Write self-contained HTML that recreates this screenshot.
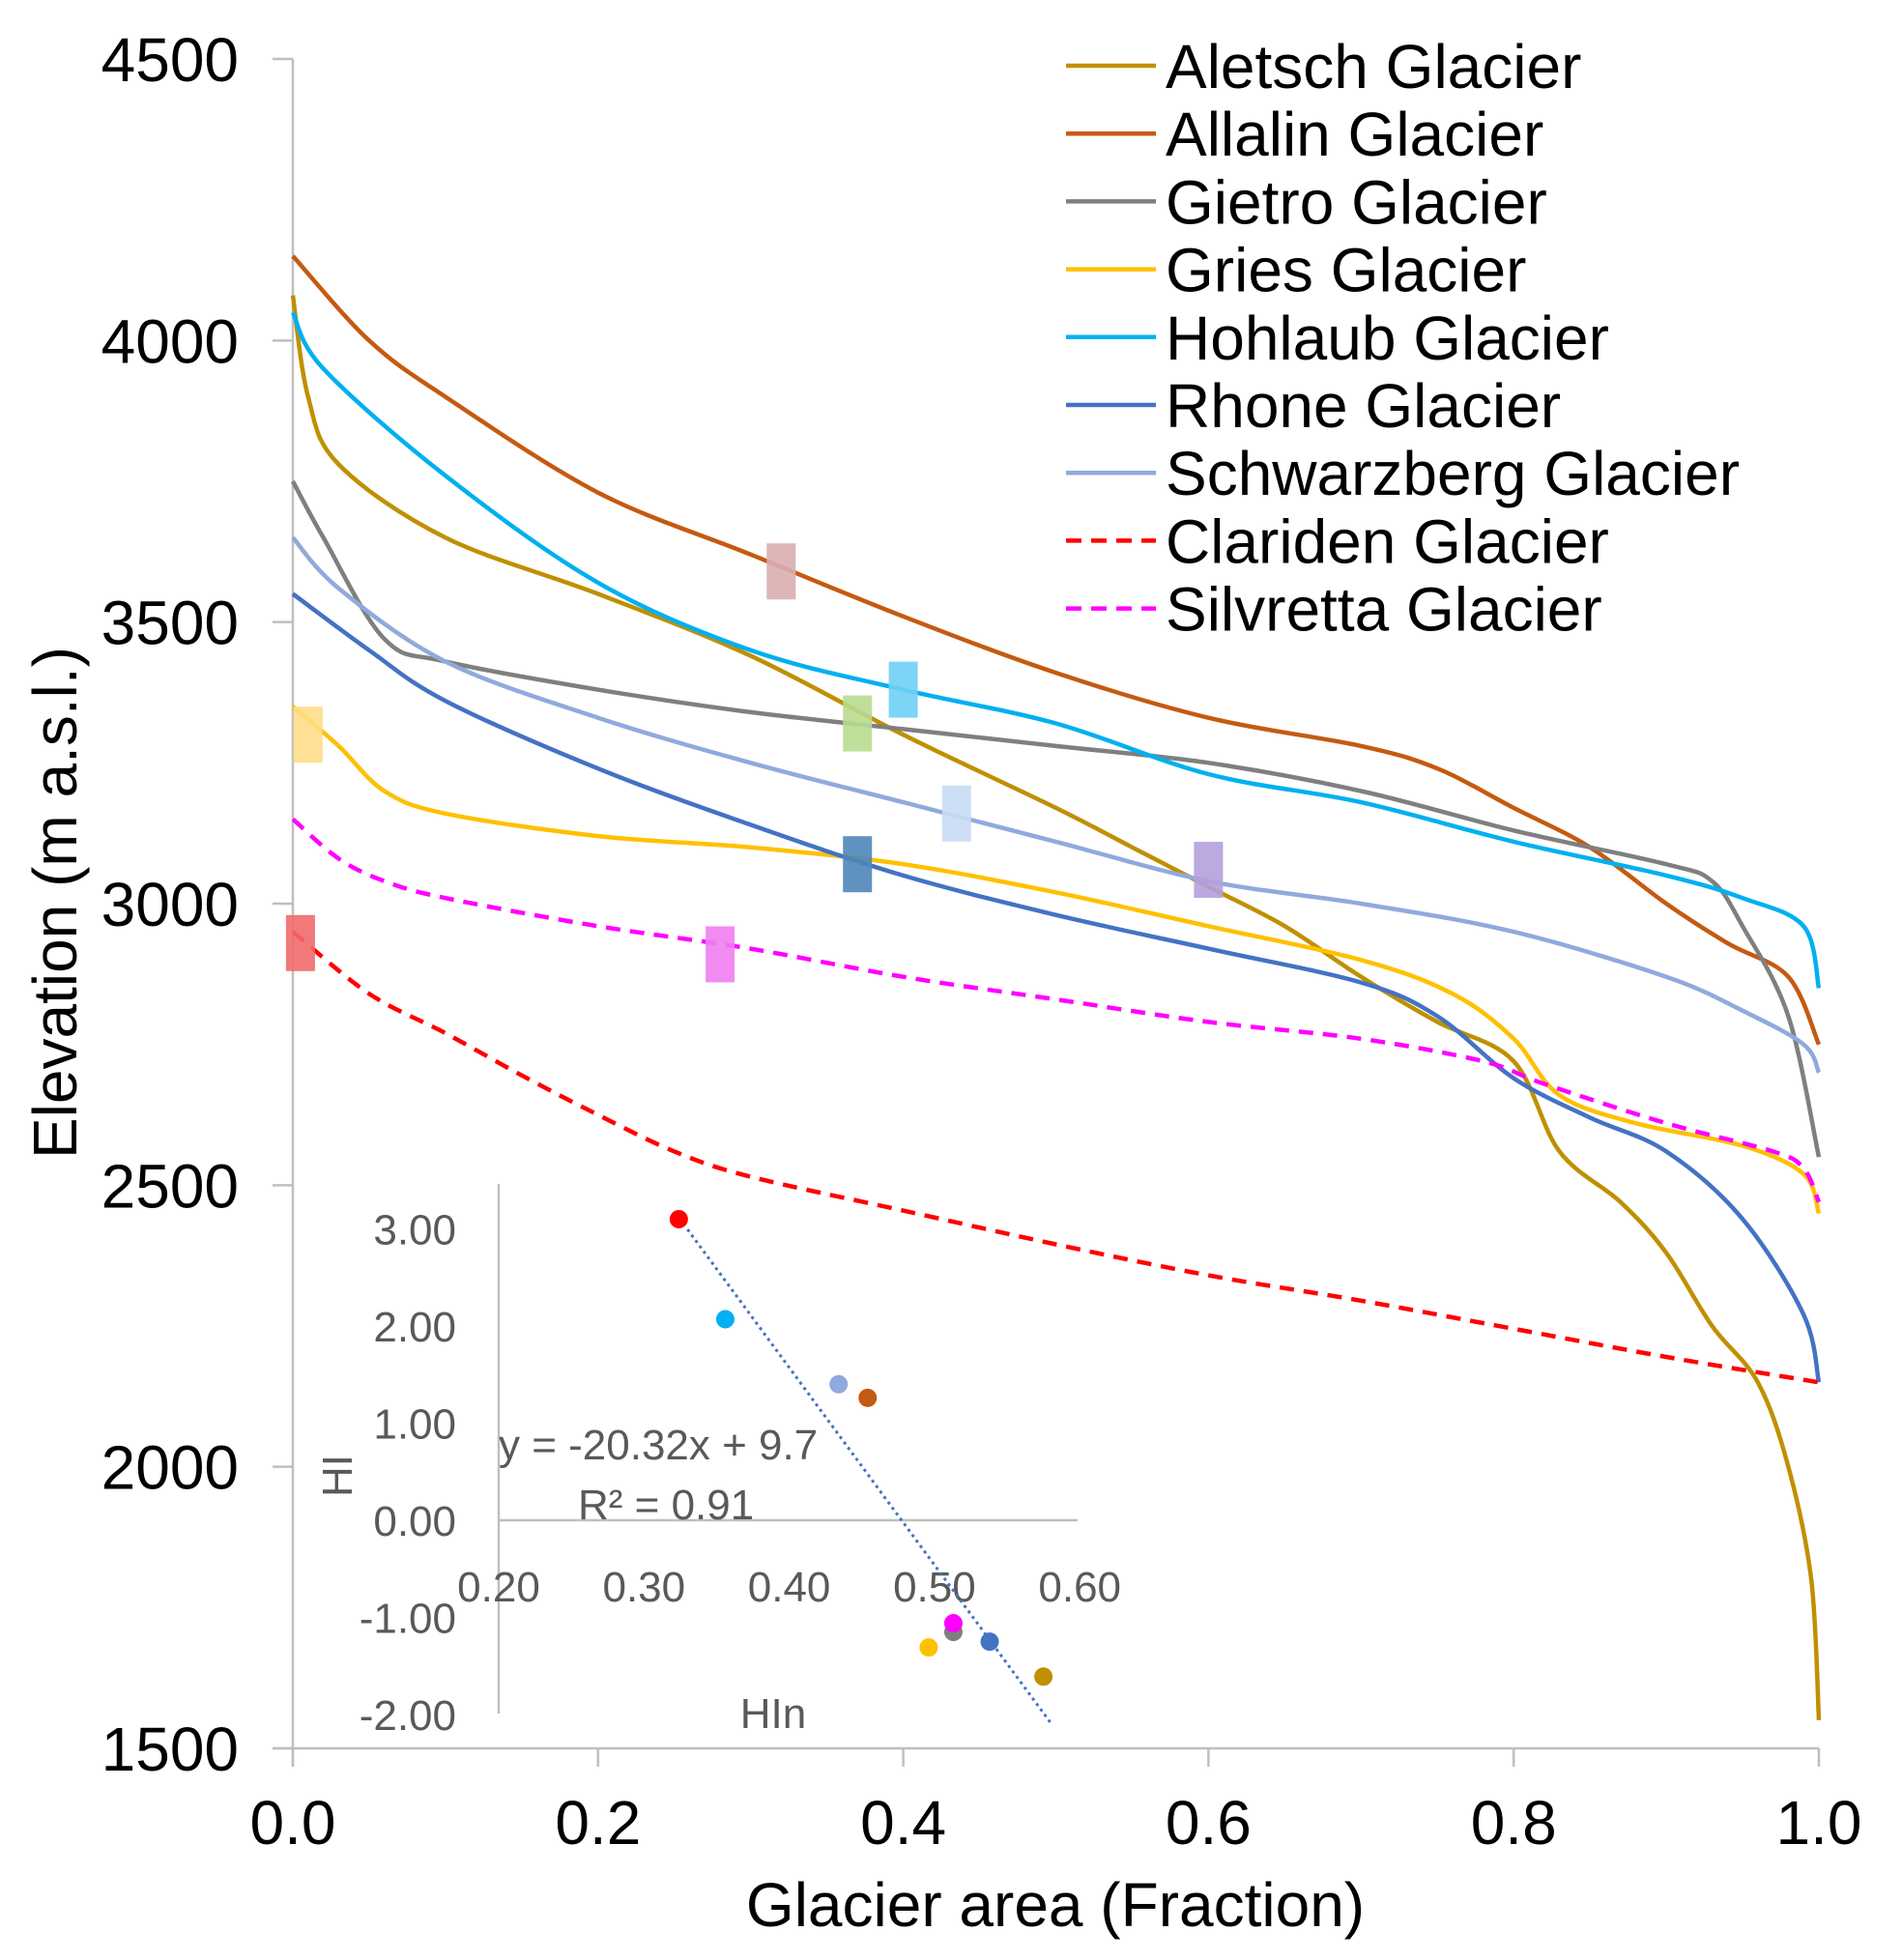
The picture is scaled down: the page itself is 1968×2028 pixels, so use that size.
<!DOCTYPE html>
<html><head><meta charset="utf-8">
<style>
html,body{margin:0;padding:0;background:#fff;}
svg{display:block;font-family:"Liberation Sans",Arial,sans-serif;}
</style></head>
<body>
<svg id="chart" width="1968" height="2028" viewBox="0 0 1968 2028" xmlns="http://www.w3.org/2000/svg"></svg>
<script>
// ---- data ----
const seriesNames = ["Aletsch Glacier","Allalin Glacier","Gietro Glacier","Gries Glacier","Hohlaub Glacier","Rhone Glacier","Schwarzberg Glacier","Clariden Glacier","Silvretta Glacier"];
const seriesColors = ["#bf9000","#c55a11","#7f7f7f","#ffc000","#00b0f0","#4472c4","#8faadc","#ff0000","#ff00ff"];
const seriesDashed = [false,false,false,false,false,false,false,true,true];
const aletschX = [0,0.01,0.03,0.1,0.2,0.3,0.4,0.5,0.55,0.6,0.65,0.7,0.75,0.8,0.83,0.87,0.9,0.93,0.96,0.98,0.995,1.0];
const aletschY = [4080,3900,3780,3650,3550,3440,3300,3170,3100,3030,2960,2870,2790,2720,2560,2470,2380,2250,2150,2000,1800,1550];
const allalinX = [0,0.05,0.1,0.2,0.3,0.4,0.5,0.6,0.7,0.75,0.8,0.85,0.9,0.94,0.98,1.0];
const allalinY = [4150,4000,3900,3730,3620,3510,3410,3330,3280,3240,3170,3100,3000,2930,2870,2750];
const gietroX = [0,0.02,0.06,0.1,0.2,0.3,0.4,0.5,0.6,0.7,0.8,0.9,0.93,0.95,0.98,1.0];
const gietroY = [3750,3650,3470,3430,3380,3340,3310,3280,3250,3200,3130,3070,3040,2960,2800,2550];
const griesX = [0,0.03,0.06,0.1,0.2,0.3,0.4,0.5,0.6,0.7,0.76,0.8,0.83,0.88,0.95,0.99,1.0];
const griesY = [3350,3280,3200,3160,3120,3100,3070,3020,2960,2900,2840,2760,2660,2610,2570,2520,2450];
const hohlaubX = [0,0.02,0.1,0.2,0.3,0.4,0.5,0.6,0.7,0.8,0.9,0.95,0.99,1.0];
const hohlaubY = [4050,3950,3760,3570,3450,3380,3320,3230,3180,3110,3050,3010,2960,2850];
const rhoneX = [0,0.05,0.1,0.2,0.3,0.4,0.5,0.6,0.7,0.75,0.8,0.85,0.9,0.95,0.99,1.0];
const rhoneY = [3550,3450,3360,3240,3140,3050,2980,2920,2860,2800,2690,2620,2560,2440,2270,2150];
const schwarzX = [0,0.03,0.1,0.2,0.3,0.4,0.5,0.6,0.7,0.8,0.9,0.95,0.99,1.0];
const schwarzY = [3650,3560,3430,3330,3250,3180,3110,3040,3000,2950,2870,2810,2750,2700];
const claridenX = [0,0.05,0.1,0.15,0.2,0.25,0.3,0.4,0.5,0.6,0.7,0.8,0.9,1.0];
const claridenY = [2950,2840,2770,2695,2625,2560,2515,2455,2395,2340,2295,2245,2195,2150];
const silvrettaX = [0,0.03,0.06,0.1,0.2,0.3,0.4,0.5,0.6,0.7,0.78,0.82,0.9,0.97,0.99,1.0];
const silvrettaY = [3150,3080,3040,3010,2960,2920,2870,2830,2790,2760,2720,2680,2610,2560,2530,2470];
const seriesX = [aletschX,allalinX,gietroX,griesX,hohlaubX,rhoneX,schwarzX,claridenX,silvrettaX];
const seriesY = [aletschY,allalinY,gietroY,griesY,hohlaubY,rhoneY,schwarzY,claridenY,silvrettaY];
// HI markers (rectangles) on main chart
const markerX = [0.37,0.32,0.6,0.01,0.4,0.37,0.435,0.005,0.28];
const markerY = [3320,3590,3060,3300,3380,3070,3160,2930,2910];
const markerColors = ["#b8dc8f","#d9aeb0","#b4a0dd","#ffdd88","#6fd0f5","#4e86b8","#c8dcf5","#f06a6a","#f07df0"];
const xTicks = [0,0.2,0.4,0.6,0.8,1.0];
const xTickLabels = ["0.0","0.2","0.4","0.6","0.8","1.0"];
const yTicks = [1500,2000,2500,3000,3500,4000,4500];
// inset scatter
const insetX = [0.575,0.454,0.513,0.496,0.356,0.538,0.434,0.324,0.513];
const insetY = [-1.61,1.26,-1.15,-1.31,2.07,-1.25,1.40,3.10,-1.06];
const insetXTicks = [0.2,0.3,0.4,0.5,0.6];
const insetXTickLabels = ["0.20","0.30","0.40","0.50","0.60"];
const insetYTicks = [3,2,1,0,-1,-2];
const insetYTickLabels = ["3.00","2.00","1.00","0.00","-1.00","-2.00"];
const trendSlope = -20.32, trendIntercept = 9.7;
const trendRange = [0.33,0.58];

// ---- axes ----
const X0=303, X1=1882, Y0=1809, Y1=61;
const sx = v => X0 + v*(X1-X0);
const sy = v => Y0 - (v-1500)/3000*(Y0-Y1);
const IX0=516, IY0=1573;
const isx = v => IX0 + (v-0.2)/0.1*150.3;
const isy = v => IY0 - v*100.5;

const svg=document.getElementById('chart');
const NS='http://www.w3.org/2000/svg';
function mk(tag,attrs,parent){const e=document.createElementNS(NS,tag);for(const k in attrs)e.setAttribute(k,attrs[k]);(parent||svg).appendChild(e);return e;}
function smooth(pts){
  let d='M'+pts[0][0].toFixed(1)+','+pts[0][1].toFixed(1);
  for(let i=0;i<pts.length-1;i++){
    const p0=pts[i-1]||pts[i],p1=pts[i],p2=pts[i+1],p3=pts[i+2]||p2;
    const c1=[p1[0]+(p2[0]-p0[0])/6,p1[1]+(p2[1]-p0[1])/6];
    const c2=[p2[0]-(p3[0]-p1[0])/6,p2[1]-(p3[1]-p1[1])/6];
    d+=' C'+c1[0].toFixed(1)+','+c1[1].toFixed(1)+' '+c2[0].toFixed(1)+','+c2[1].toFixed(1)+' '+p2[0].toFixed(1)+','+p2[1].toFixed(1);
  }
  return d;
}

let e;
e=mk('line',{x1:X0,y1:Y1,x2:X0,y2:Y0+19,stroke:'#bfbfbf','stroke-width':2.5});


e=mk('line',{x1:X0-21,y1:Y0,x2:X1,y2:Y0,stroke:'#bfbfbf','stroke-width':2.5});


yTicks.forEach(t=>{
  e=mk('line',{x1:X0-21,y1:sy(t),x2:X0,y2:sy(t),stroke:'#bfbfbf','stroke-width':2.5});
  
  
  e=mk('text',{x:247,y:sy(t)+23,'text-anchor':'end','font-size':64,fill:'#000'});
  e.textContent=t;
  
  
});
xTicks.forEach((t,i)=>{
  e=mk('line',{x1:sx(t),y1:Y0,x2:sx(t),y2:Y0+19,stroke:'#bfbfbf','stroke-width':2.5});
  
  
  e=mk('text',{x:sx(t),y:1908,'text-anchor':'middle','font-size':64,fill:'#000'});
  e.textContent=xTickLabels[i];
  
  
});
e=mk('text',{x:1092,y:1993,'text-anchor':'middle','font-size':64,fill:'#000'});
e.textContent='Glacier area (Fraction)';


e=mk('text',{x:0,y:0,'text-anchor':'middle','font-size':64,fill:'#000',transform:'translate(79,934) rotate(-90)'});
e.textContent='Elevation (m a.s.l.)';



seriesNames.forEach((n,i)=>{
  const pts=seriesX[i].map((x,j)=>[sx(x),sy(seriesY[i][j])]);
  const a={d:smooth(pts),fill:'none',stroke:seriesColors[i],'stroke-width':4.5,'stroke-linejoin':'round'};
  if(seriesDashed[i]) a['stroke-dasharray']='15 10';
  e=mk('path',a);
  
  
});
markerX.forEach((x,i)=>{
  e=mk('rect',{x:sx(x)-15,y:sy(markerY[i])-29,width:30,height:58,fill:markerColors[i],opacity:0.9});
  
  
});

seriesNames.forEach((n,i)=>{
  const y=68+i*70.2;
  const g=mk('g',{});
  
  
  const a={x1:1103,y1:y,x2:1196,y2:y,stroke:seriesColors[i],'stroke-width':4.5};
  if(seriesDashed[i]) a['stroke-dasharray']='16 10';
  mk('line',a,g);
  const t=mk('text',{x:1206,y:y+23,'font-size':64,fill:'#000'},g);
  t.textContent=n;
});

e=mk('line',{x1:IX0,y1:1225,x2:IX0,y2:1773,stroke:'#bfbfbf','stroke-width':2.5});


e=mk('line',{x1:IX0,y1:IY0,x2:1115,y2:IY0,stroke:'#bfbfbf','stroke-width':2.5});


insetYTicks.forEach((t,i)=>{
  e=mk('text',{x:472,y:isy(t)+16,'text-anchor':'end','font-size':44,fill:'#595959'});
  e.textContent=insetYTickLabels[i];
  
  
});
insetXTicks.forEach((t,i)=>{
  e=mk('text',{x:isx(t),y:1657,'text-anchor':'middle','font-size':44,fill:'#595959'});
  e.textContent=insetXTickLabels[i];
  
  
});
e=mk('line',{x1:isx(trendRange[0]),y1:isy(trendSlope*trendRange[0]+trendIntercept),x2:isx(trendRange[1]),y2:isy(trendSlope*trendRange[1]+trendIntercept),stroke:'#4472c4','stroke-width':3,'stroke-dasharray':'3 4'});


insetX.forEach((x,i)=>{
  e=mk('circle',{cx:isx(x),cy:isy(insetY[i]),r:9.5,fill:seriesColors[i]});
  
  
});
e=mk('text',{x:516,y:1510,'font-size':44,fill:'#595959'});
e.textContent='y = -20.32x + 9.7';


e=mk('text',{x:598,y:1572,'font-size':44,fill:'#595959'});
e.textContent='R² = 0.91';


e=mk('text',{x:0,y:0,'text-anchor':'middle','font-size':44,fill:'#595959',transform:'translate(364,1527) rotate(-90)'});
e.textContent='HI';


e=mk('text',{x:800,y:1788,'text-anchor':'middle','font-size':44,fill:'#595959'});
e.textContent='HIn';


</script>
</body></html>
